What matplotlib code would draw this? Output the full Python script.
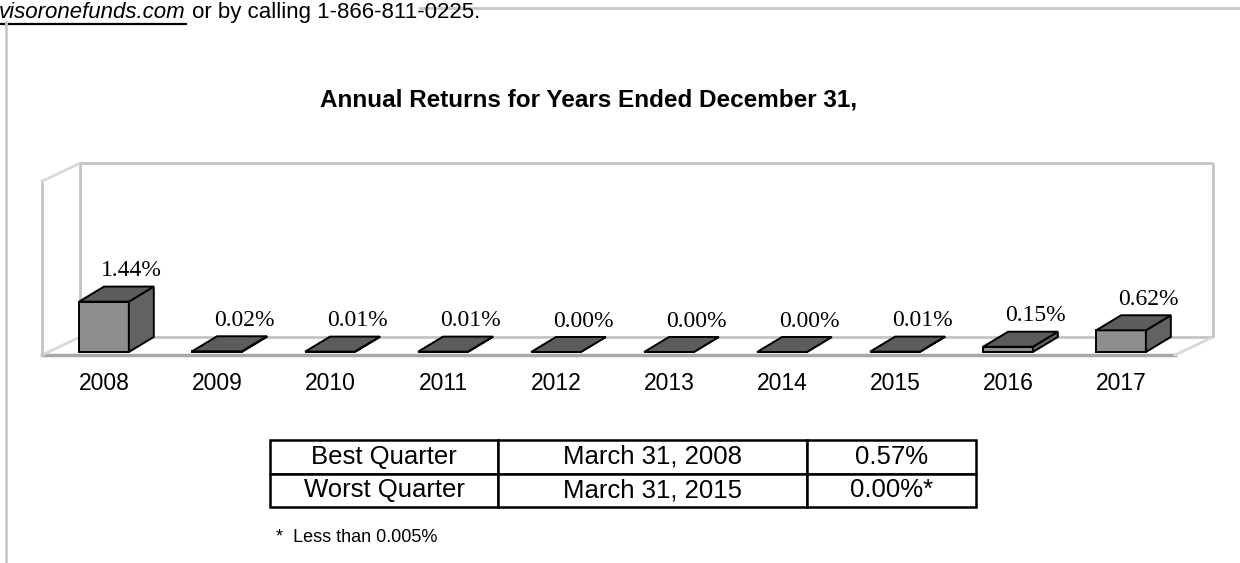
import numpy as np
import matplotlib
matplotlib.use('Agg')
import matplotlib.pyplot as plt
from matplotlib.lines import Line2D

plt.rcParams['font.family'] = ['Liberation Sans', 'DejaVu Sans']

years = ['2008', '2009', '2010', '2011', '2012', '2013', '2014', '2015', '2016', '2017']
returns = [1.44, 0.02, 0.01, 0.01, 0.00, 0.00, 0.00, 0.01, 0.15, 0.62]
return_labels = ['1.44%', '0.02%', '0.01%', '0.01%', '0.00%', '0.00%', '0.00%', '0.01%', '0.15%', '0.62%']

quarter_rows = [['Best Quarter', 'March 31, 2008', '0.57%'],
                ['Worst Quarter', 'March 31, 2015', '0.00%*']]

W, H = 1240, 563
fig = plt.figure(figsize=(W / 100, H / 100), dpi=100)

# main axes spans the figure; x = category index, y = percent
ax = fig.add_axes([0, 0, 1, 1])
ax.set_xlim(-0.920, 10.053)
ax.set_ylim(-6.03, 10.06)
ax.axis('off')

# 3d box (walls / floor)
fl = -0.086
dxw, dyw = 0.336, 0.514
xl, xr = -0.549, 9.478
ht = 4.88
wall = dict(color='#c4c4c4', lw=2, solid_capstyle='butt')
ax.plot([xl, xr], [fl, fl], color='#a8a8a8', lw=2.5)
ax.plot([xl + dxw, xr + dxw], [fl + dyw, fl + dyw], **wall)
ax.plot([xl, xl + dxw], [fl, fl + dyw], color='#d8d8d8', lw=2)
ax.plot([xr, xr + dxw], [fl, fl + dyw], color='#d8d8d8', lw=2)
ax.plot([xl, xl], [fl, ht], **wall)
ax.plot([xl + dxw, xl + dxw], [fl + dyw, ht + dyw], **wall)
ax.plot([xl, xl + dxw], [ht, ht + dyw], color='#d8d8d8', lw=2)
ax.plot([xl + dxw, xr + dxw], [ht + dyw, ht + dyw], **wall)
ax.plot([xr + dxw, xr + dxw], [fl + dyw, ht + dyw], **wall)

# bars
bw = 0.44
dxb, dyb = 0.221, 0.43
for i, v in enumerate(returns):
    x0, x1 = i - bw / 2, i + bw / 2
    # front
    ax.fill([x0, x1, x1, x0], [0, 0, v, v], facecolor='#8e8e8e', edgecolor='black', lw=1.4, zorder=3)
    # side
    ax.fill([x1, x1 + dxb, x1 + dxb, x1], [0, dyb, v + dyb, v], facecolor='#626262',
            edgecolor='black', lw=1.4, zorder=3)
    # top
    ax.fill([x0, x1, x1 + dxb, x0 + dxb], [v, v, v + dyb, v + dyb], facecolor='#5c5c5c',
            edgecolor='black', lw=1.4, zorder=4)
    ax.text(i + 0.24, v + dyb + 0.45, return_labels[i], ha='center', va='center',
            family='Liberation Serif', fontsize=17)
    ax.text(i, -0.89, years[i], ha='center', va='center', fontsize=16.5)

fig.text(589 / W, 1 - 100 / H, 'Annual Returns for Years Ended December 31,', ha='center',
         va='center', fontsize=17.5, fontweight='bold')

# header text (cut off at left like the source page)
t1 = fig.text(-1 / W, 1 - 18 / H, 'visoronefunds.com', ha='left', va='baseline',
              fontsize=16, style='italic')
fig.canvas.draw()
bb = t1.get_window_extent()
fig.text(bb.x1 / W, 1 - 18 / H, ' or by calling 1-866-811-0225.', ha='left',
         va='baseline', fontsize=16)
fig.add_artist(Line2D([0, bb.x1 / W], [1 - 23.5 / H, 1 - 23.5 / H], color='black', lw=1.6))

# page rules
fig.add_artist(Line2D([420 / W, 1], [1 - 8 / H, 1 - 8 / H], color='#c8c8c8', lw=2))
fig.add_artist(Line2D([6 / W, 6 / W], [0, 1 - 22 / H], color='#c8c8c8', lw=2))

# quarter table
tx0, tx1, ty0, ty1 = 270, 976, 440, 507
tb = ax.table(cellText=quarter_rows, cellLoc='center',
              colWidths=[228, 309, 169],
              bbox=[tx0 / W, 1 - ty1 / H, (tx1 - tx0) / W, (ty1 - ty0) / H],
              transform=fig.transFigure)
tb.auto_set_font_size(False)
for cell in tb.get_celld().values():
    cell.set_linewidth(1.8)
    cell.set_edgecolor('black')
    cell.get_text().set_fontsize(18.5)

fig.text(276 / W, 1 - 537 / H, '*  Less than 0.005%', ha='left', va='center', fontsize=13)

fig.savefig('out.png', dpi=100)
